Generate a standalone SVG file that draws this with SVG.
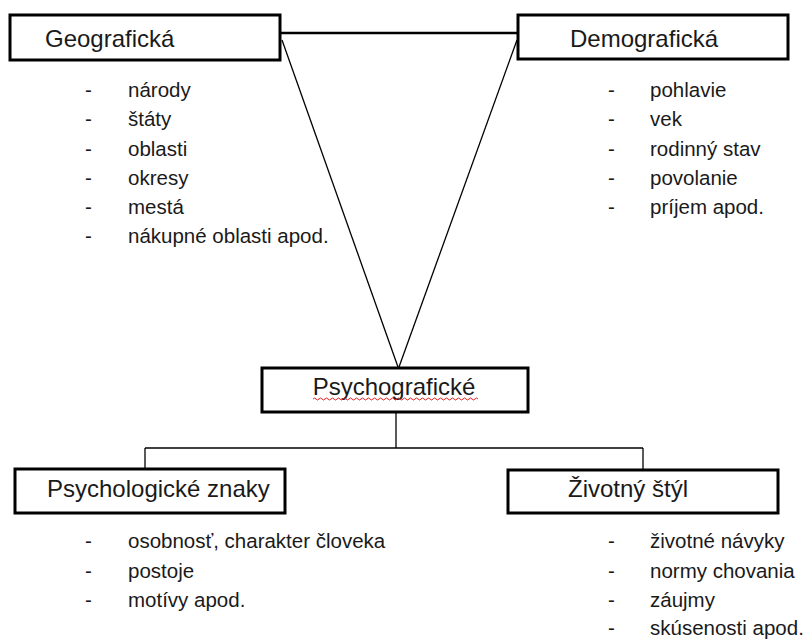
<svg xmlns="http://www.w3.org/2000/svg" width="806" height="640" viewBox="0 0 806 640">
<style>
.box{fill:#fff;stroke:#000;stroke-width:3}
.title{font-family:"Liberation Sans",Arial,sans-serif;font-size:24px;fill:#1a1a1a}
.item{font-family:"Liberation Sans",Arial,sans-serif;font-size:20.5px;fill:#1a1a1a}
.conn{fill:none;stroke:#000;stroke-width:1.3}
.thick{fill:none;stroke:#000;stroke-width:2.5}
</style>
<rect width="806" height="640" fill="#fff"/>
<g id="connectors">
<line class="thick" x1="280" y1="33" x2="518" y2="33"/>
<line class="conn" x1="282" y1="40" x2="398" y2="367"/>
<line class="conn" x1="517" y1="40" x2="399" y2="367"/>
<polyline class="conn" points="396,412 396,448"/>
<line class="conn" x1="145" y1="448" x2="643" y2="448"/>
<line class="conn" x1="145" y1="448" x2="145" y2="469"/>
<line class="conn" x1="643" y1="448" x2="643" y2="470"/>
</g>
<g id="geograficka">
<rect class="box" x="10" y="15" width="270" height="45"/>
<text class="title" x="45" y="47">Geografická</text>
<g class="item">
<text x="85" y="97">-</text><text x="128" y="97">národy</text>
<text x="85" y="126">-</text><text x="128" y="126">štáty</text>
<text x="85" y="156">-</text><text x="128" y="156">oblasti</text>
<text x="85" y="185">-</text><text x="128" y="185">okresy</text>
<text x="85" y="214">-</text><text x="128" y="214">mestá</text>
<text x="85" y="243">-</text><text x="128" y="243">nákupné oblasti apod.</text>
</g>
</g>
<g id="demograficka">
<rect class="box" x="518" y="15" width="270" height="44"/>
<text class="title" x="570" y="47">Demografická</text>
<g class="item">
<text x="608" y="97">-</text><text x="650" y="97">pohlavie</text>
<text x="608" y="126">-</text><text x="650" y="126">vek</text>
<text x="608" y="156">-</text><text x="650" y="156">rodinný stav</text>
<text x="608" y="185">-</text><text x="650" y="185">povolanie</text>
<text x="608" y="214">-</text><text x="650" y="214">príjem apod.</text>
</g>
</g>
<g id="psychograficke">
<rect class="box" x="262" y="368" width="266" height="44"/>
<text class="title" x="394" y="395" text-anchor="middle">Psychografické</text>
<path d="M313,399 q1.5,-2 3,0 t3,0 t3,0 t3,0 t3,0 t3,0 t3,0 t3,0 t3,0 t3,0 t3,0 t3,0 t3,0 t3,0 t3,0 t3,0 t3,0 t3,0 t3,0 t3,0 t3,0 t3,0 t3,0 t3,0 t3,0 t3,0 t3,0 t3,0 t3,0 t3,0 t3,0 t3,0 t3,0 t3,0 t3,0 t3,0 t3,0 t3,0 t3,0 t3,0 t3,0 t3,0 t3,0 t3,0 t3,0 t3,0 t3,0 t3,0 t3,0 t3,0 t3,0 t3,0 t3,0 t3,0 t3,0" fill="none" stroke="#e02020" stroke-width="1"/>
</g>
<g id="psychologicke">
<rect class="box" x="15" y="469" width="270" height="44"/>
<text class="title" x="47" y="497">Psychologické znaky</text>
<g class="item">
<text x="85" y="548">-</text><text x="128" y="548">osobnosť, charakter človeka</text>
<text x="85" y="578">-</text><text x="128" y="578">postoje</text>
<text x="85" y="607">-</text><text x="128" y="607">motívy apod.</text>
</g>
</g>
<g id="zivotny">
<rect class="box" x="508" y="470" width="270" height="43"/>
<text class="title" x="568" y="497">Životný štýl</text>
<g class="item">
<text x="608" y="548">-</text><text x="650" y="548">životné návyky</text>
<text x="608" y="578">-</text><text x="650" y="578">normy chovania</text>
<text x="608" y="607">-</text><text x="650" y="607">záujmy</text>
<text x="608" y="635">-</text><text x="650" y="635">skúsenosti apod.</text>
</g>
</g>
</svg>
